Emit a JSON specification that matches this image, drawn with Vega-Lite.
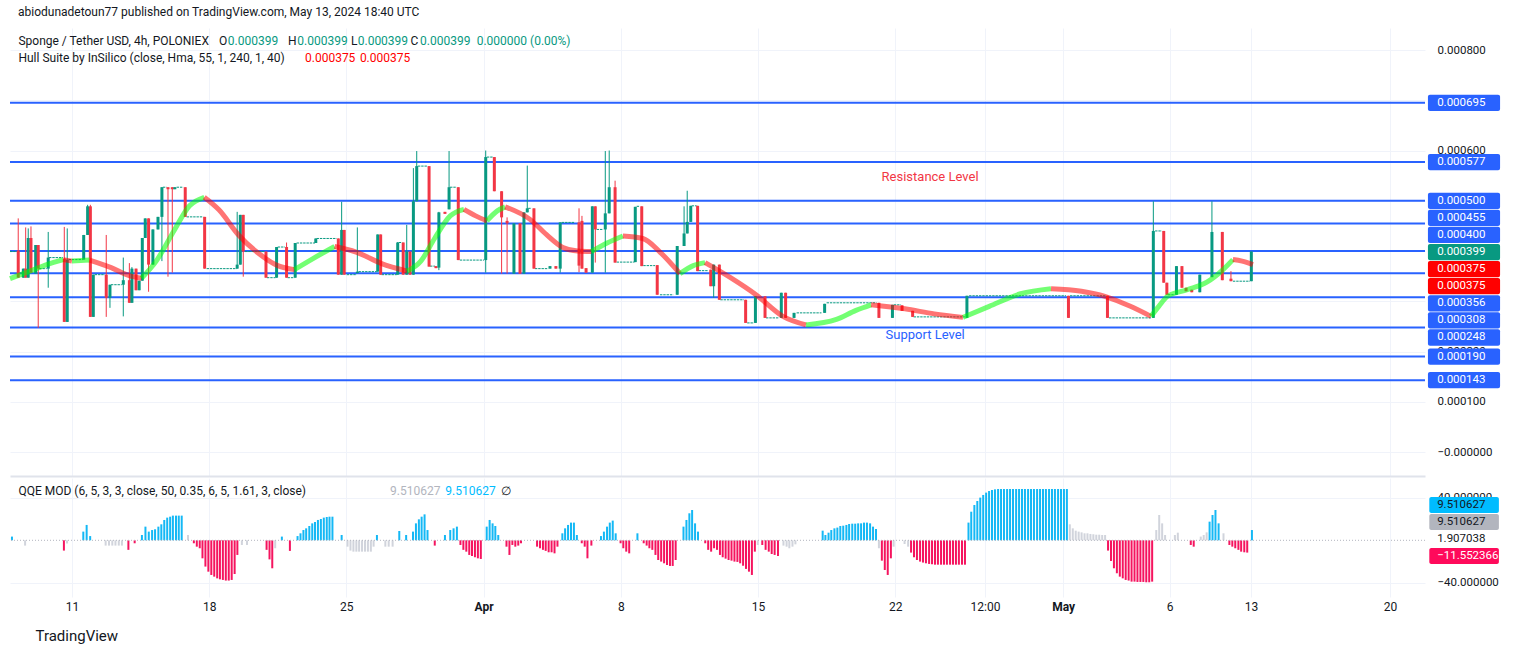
{
  "$schema": "https://vega.github.io/schema/vega-lite/v6.json",
  "background": "white",
  "padding": {"left": 0, "top": 6, "right": 5, "bottom": 5},
  "title": {"text": "abiodunadetoun77 published on TradingView.com, May 13, 2024 18:40 UTC", "anchor": "start", "dx": 18, "fontSize": 12, "fontWeight": "normal", "color": "#131722", "font": "Roboto", "offset": 9},
  "spacing": 2,
  "datasets": {
    "candles": [
      {"t":8.26,"o":0.000401,"h":0.000465,"l":0.000347,"c":0.000347},
      {"t":8.52,"o":0.000347,"h":0.000365,"l":0.000347,"c":0.000365},
      {"t":8.64,"o":0.000365,"h":0.000447,"l":0.000347,"c":0.000347},
      {"t":8.77,"o":0.000347,"h":0.000445,"l":0.000347,"c":0.000426},
      {"t":8.91,"o":0.000426,"h":0.000449,"l":0.000357,"c":0.000357},
      {"t":9.15,"o":0.000355,"h":0.000412,"l":0.000355,"c":0.000412},
      {"t":9.28,"o":0.000412,"h":0.000412,"l":0.000247,"c":0.000365},
      {"t":9.79,"o":0.000365,"h":0.000438,"l":0.000327,"c":0.000387},
      {"t":10.61,"o":0.000385,"h":0.000448,"l":0.000259,"c":0.000259},
      {"t":10.76,"o":0.000259,"h":0.000445,"l":0.000259,"c":0.000383},
      {"t":11.6,"o":0.000383,"h":0.000432,"l":0.000383,"c":0.000432},
      {"t":11.8,"o":0.000432,"h":0.000492,"l":0.000432,"c":0.000489},
      {"t":11.94,"o":0.000489,"h":0.000492,"l":0.000269,"c":0.000269},
      {"t":12.09,"o":0.000269,"h":0.000353,"l":0.000269,"c":0.000353},
      {"t":12.75,"o":0.000353,"h":0.000432,"l":0.000269,"c":0.000307},
      {"t":12.94,"o":0.000307,"h":0.000333,"l":0.000287,"c":0.000333},
      {"t":13.62,"o":0.000333,"h":0.000387,"l":0.000270,"c":0.000342},
      {"t":13.93,"o":0.000342,"h":0.000376,"l":0.000297,"c":0.000297},
      {"t":14.06,"o":0.000297,"h":0.000368,"l":0.000297,"c":0.000365},
      {"t":14.27,"o":0.000365,"h":0.000365,"l":0.000322,"c":0.000322},
      {"t":14.43,"o":0.000322,"h":0.000341,"l":0.000322,"c":0.000341},
      {"t":14.59,"o":0.000341,"h":0.000426,"l":0.000341,"c":0.000426},
      {"t":14.74,"o":0.000426,"h":0.000465,"l":0.000426,"c":0.000465},
      {"t":14.91,"o":0.000465,"h":0.000465,"l":0.000319,"c":0.000373},
      {"t":15.13,"o":0.000373,"h":0.000443,"l":0.000373,"c":0.000443},
      {"t":15.39,"o":0.000443,"h":0.000468,"l":0.000443,"c":0.000468},
      {"t":15.59,"o":0.000468,"h":0.000527,"l":0.000380,"c":0.000527},
      {"t":15.9,"o":0.000527,"h":0.000527,"l":0.000349,"c":0.000523},
      {"t":16.12,"o":0.000527,"h":0.000527,"l":0.000357,"c":0.000523},
      {"t":16.25,"o":0.000523,"h":0.000527,"l":0.000523,"c":0.000527},
      {"t":16.78,"o":0.000527,"h":0.000527,"l":0.000468,"c":0.000468},
      {"t":17.77,"o":0.000468,"h":0.000468,"l":0.000365,"c":0.000365},
      {"t":19.43,"o":0.000365,"h":0.000478,"l":0.000365,"c":0.000373},
      {"t":19.59,"o":0.000373,"h":0.000472,"l":0.000373,"c":0.000472},
      {"t":19.74,"o":0.000472,"h":0.000472,"l":0.000349,"c":0.000399},
      {"t":20.9,"o":0.000399,"h":0.000399,"l":0.000347,"c":0.000347},
      {"t":21.44,"o":0.000347,"h":0.000408,"l":0.000347,"c":0.000408},
      {"t":21.95,"o":0.000408,"h":0.000417,"l":0.000347,"c":0.000347},
      {"t":22.39,"o":0.000347,"h":0.000416,"l":0.000347,"c":0.000416},
      {"t":23.44,"o":0.000416,"h":0.000425,"l":0.000416,"c":0.000425},
      {"t":24.59,"o":0.000425,"h":0.000425,"l":0.000353,"c":0.000353},
      {"t":24.76,"o":0.000353,"h":0.000498,"l":0.000353,"c":0.000442},
      {"t":24.89,"o":0.000442,"h":0.000442,"l":0.000353,"c":0.000353},
      {"t":25.56,"o":0.000356,"h":0.000447,"l":0.000356,"c":0.000359},
      {"t":26.6,"o":0.000359,"h":0.000433,"l":0.000359,"c":0.000433},
      {"t":26.75,"o":0.000433,"h":0.000433,"l":0.000353,"c":0.000353},
      {"t":27.62,"o":0.000353,"h":0.000418,"l":0.000353,"c":0.000417},
      {"t":27.9,"o":0.000417,"h":0.000417,"l":0.000353,"c":0.000353},
      {"t":28.08,"o":0.000353,"h":0.000452,"l":0.000353,"c":0.000399},
      {"t":28.25,"o":0.000399,"h":0.000399,"l":0.000353,"c":0.000353},
      {"t":28.42,"o":0.000353,"h":0.000565,"l":0.000353,"c":0.000499},
      {"t":28.59,"o":0.000499,"h":0.000599,"l":0.000499,"c":0.000569},
      {"t":29.22,"o":0.000569,"h":0.000569,"l":0.000369,"c":0.000369},
      {"t":29.57,"o":0.000370,"h":0.000370,"l":0.000366,"c":0.000366},
      {"t":29.72,"o":0.000367,"h":0.000478,"l":0.000362,"c":0.000477},
      {"t":30.03,"o":0.000478,"h":0.000478,"l":0.000474,"c":0.000474},
      {"t":30.24,"o":0.000483,"h":0.000599,"l":0.000483,"c":0.000527},
      {"t":30.71,"o":0.000527,"h":0.000527,"l":0.000382,"c":0.000382},
      {"t":32.11,"o":0.000382,"h":0.000600,"l":0.000357,"c":0.000587},
      {"t":32.55,"o":0.000587,"h":0.000587,"l":0.000519,"c":0.000519},
      {"t":32.92,"o":0.000519,"h":0.000519,"l":0.000355,"c":0.000467},
      {"t":33.2,"o":0.000460,"h":0.000467,"l":0.000355,"c":0.000455},
      {"t":33.55,"o":0.000355,"h":0.000455,"l":0.000355,"c":0.000455},
      {"t":33.86,"o":0.000455,"h":0.000455,"l":0.000355,"c":0.000355},
      {"t":34.06,"o":0.000355,"h":0.000477,"l":0.000355,"c":0.000477},
      {"t":34.23,"o":0.000477,"h":0.000570,"l":0.000477,"c":0.000485},
      {"t":34.57,"o":0.000485,"h":0.000485,"l":0.000365,"c":0.000365},
      {"t":35.39,"o":0.000365,"h":0.000370,"l":0.000365,"c":0.000370},
      {"t":35.69,"o":0.000370,"h":0.000370,"l":0.000365,"c":0.000365},
      {"t":35.91,"o":0.000365,"h":0.000457,"l":0.000357,"c":0.000457},
      {"t":36.87,"o":0.000457,"h":0.000485,"l":0.000358,"c":0.000371},
      {"t":37.02,"o":0.000460,"h":0.000470,"l":0.000365,"c":0.000365},
      {"t":37.23,"o":0.000366,"h":0.000366,"l":0.000357,"c":0.000357},
      {"t":37.55,"o":0.000357,"h":0.000489,"l":0.000357,"c":0.000489},
      {"t":37.7,"o":0.000489,"h":0.000489,"l":0.000377,"c":0.000443},
      {"t":38.21,"o":0.000443,"h":0.000599,"l":0.000357,"c":0.000475},
      {"t":38.41,"o":0.000475,"h":0.000600,"l":0.000475,"c":0.000527},
      {"t":38.71,"o":0.000527,"h":0.000540,"l":0.000377,"c":0.000377},
      {"t":39.74,"o":0.000378,"h":0.000488,"l":0.000378,"c":0.000488},
      {"t":40.07,"o":0.000489,"h":0.000489,"l":0.000370,"c":0.000370},
      {"t":40.86,"o":0.000372,"h":0.000372,"l":0.000313,"c":0.000313},
      {"t":41.88,"o":0.000313,"h":0.000410,"l":0.000313,"c":0.000410},
      {"t":42.23,"o":0.000410,"h":0.000489,"l":0.000410,"c":0.000435},
      {"t":42.39,"o":0.000435,"h":0.000520,"l":0.000435,"c":0.000458},
      {"t":42.57,"o":0.000458,"h":0.000490,"l":0.000458,"c":0.000490},
      {"t":42.92,"o":0.000490,"h":0.000490,"l":0.000360,"c":0.000360},
      {"t":43.59,"o":0.000363,"h":0.000363,"l":0.000330,"c":0.000330},
      {"t":43.74,"o":0.000330,"h":0.000373,"l":0.000307,"c":0.000373},
      {"t":44.03,"o":0.000373,"h":0.000373,"l":0.000303,"c":0.000303},
      {"t":45.37,"o":0.000303,"h":0.000303,"l":0.000257,"c":0.000257},
      {"t":45.87,"o":0.000257,"h":0.000310,"l":0.000257,"c":0.000310},
      {"t":46.36,"o":0.000310,"h":0.000310,"l":0.000267,"c":0.000267},
      {"t":47.19,"o":0.000267,"h":0.000317,"l":0.000267,"c":0.000317},
      {"t":47.41,"o":0.000317,"h":0.000317,"l":0.000267,"c":0.000267},
      {"t":47.84,"o":0.000267,"h":0.000277,"l":0.000267,"c":0.000277},
      {"t":49.4,"o":0.000277,"h":0.000295,"l":0.000277,"c":0.000295},
      {"t":52.17,"o":0.000297,"h":0.000297,"l":0.000267,"c":0.000267},
      {"t":52.86,"o":0.000267,"h":0.000293,"l":0.000267,"c":0.000293},
      {"t":53.35,"o":0.000292,"h":0.000292,"l":0.000281,"c":0.000281},
      {"t":53.89,"o":0.000281,"h":0.000281,"l":0.000269,"c":0.000269},
      {"t":56.66,"o":0.000267,"h":0.000311,"l":0.000267,"c":0.000311},
      {"t":61.84,"o":0.000311,"h":0.000311,"l":0.000267,"c":0.000267},
      {"t":63.83,"o":0.000311,"h":0.000311,"l":0.000267,"c":0.000267},
      {"t":66.17,"o":0.000267,"h":0.000499,"l":0.000267,"c":0.000440},
      {"t":66.7,"o":0.000440,"h":0.000440,"l":0.000337,"c":0.000337},
      {"t":66.86,"o":0.000337,"h":0.000337,"l":0.000313,"c":0.000313},
      {"t":67.35,"o":0.000313,"h":0.000370,"l":0.000313,"c":0.000370},
      {"t":67.63,"o":0.000370,"h":0.000370,"l":0.000327,"c":0.000327},
      {"t":67.84,"o":0.000327,"h":0.000327,"l":0.000320,"c":0.000320},
      {"t":68.13,"o":0.000323,"h":0.000323,"l":0.000318,"c":0.000318},
      {"t":68.54,"o":0.000318,"h":0.000353,"l":0.000318,"c":0.000353},
      {"t":69.16,"o":0.000348,"h":0.000499,"l":0.000348,"c":0.000438},
      {"t":69.69,"o":0.000438,"h":0.000438,"l":0.000342,"c":0.000342},
      {"t":70.13,"o":0.000345,"h":0.000360,"l":0.000340,"c":0.000340},
      {"t":71.17,"o":0.000340,"h":0.000399,"l":0.000340,"c":0.000399}
    ],
    "flats": [
      {"t0":7.84,"t1":8.2,"p":0.000399},{"t0":9.33,"t1":9.71,"p":0.000365},{"t0":9.83,"t1":10.54,"p":0.000387},
      {"t0":10.83,"t1":11.55,"p":0.000383},{"t0":12.16,"t1":12.68,"p":0.000353},{"t0":12.99,"t1":13.54,"p":0.000333},
      {"t0":15.64,"t1":15.83,"p":0.000527},{"t0":16.34,"t1":16.68,"p":0.000527},{"t0":16.85,"t1":17.7,"p":0.000468},
      {"t0":17.87,"t1":19.41,"p":0.000365},{"t0":19.83,"t1":20.85,"p":0.000399},{"t0":20.95,"t1":21.38,"p":0.000347},
      {"t0":21.5,"t1":21.87,"p":0.000408},{"t0":22.0,"t1":22.35,"p":0.000347},{"t0":22.46,"t1":23.4,"p":0.000416},
      {"t0":23.48,"t1":24.51,"p":0.000425},{"t0":25.02,"t1":25.53,"p":0.000353},{"t0":25.62,"t1":26.55,"p":0.000359},
      {"t0":26.8,"t1":27.57,"p":0.000353},{"t0":27.67,"t1":27.85,"p":0.000417},{"t0":28.65,"t1":29.15,"p":0.000569},
      {"t0":29.27,"t1":29.52,"p":0.000370},{"t0":30.29,"t1":30.63,"p":0.000527},{"t0":30.79,"t1":32.02,"p":0.000382},
      {"t0":32.17,"t1":32.47,"p":0.000587},{"t0":34.28,"t1":34.45,"p":0.000485},{"t0":34.62,"t1":35.3,"p":0.000365},
      {"t0":35.99,"t1":36.66,"p":0.000457},{"t0":37.77,"t1":38.11,"p":0.000443},{"t0":38.79,"t1":39.7,"p":0.000378},
      {"t0":39.81,"t1":39.98,"p":0.000489},{"t0":40.15,"t1":40.75,"p":0.000371},{"t0":41.0,"t1":41.68,"p":0.000313},
      {"t0":42.62,"t1":42.87,"p":0.000490},{"t0":42.97,"t1":43.45,"p":0.000361},{"t0":44.08,"t1":45.29,"p":0.000303},
      {"t0":45.45,"t1":45.8,"p":0.000257},{"t0":46.41,"t1":47.07,"p":0.000267},{"t0":47.97,"t1":49.24,"p":0.000277},
      {"t0":49.5,"t1":52.05,"p":0.000297},{"t0":52.93,"t1":53.3,"p":0.000293},{"t0":53.94,"t1":56.56,"p":0.000269},
      {"t0":56.77,"t1":61.72,"p":0.000311},{"t0":61.92,"t1":63.76,"p":0.000311},{"t0":63.91,"t1":66.05,"p":0.000267},
      {"t0":66.26,"t1":66.61,"p":0.000440},{"t0":66.92,"t1":67.28,"p":0.000313},{"t0":70.23,"t1":71.1,"p":0.000340}
    ],
    "hull": [
      {"leg":1,"trend":"up","t":7.84,"p":0.000345},{"leg":1,"trend":"up","t":8.86,"p":0.000360},{"leg":1,"trend":"up","t":9.71,"p":0.000373},{"leg":1,"trend":"up","t":10.56,"p":0.000383},
      {"leg":2,"trend":"down","t":10.56,"p":0.000383},{"leg":2,"trend":"down","t":11.0,"p":0.000380},
      {"leg":3,"trend":"up","t":11.0,"p":0.000380},{"leg":3,"trend":"up","t":11.9,"p":0.000382},
      {"leg":4,"trend":"down","t":11.9,"p":0.000382},{"leg":4,"trend":"down","t":13.0,"p":0.000367},{"leg":4,"trend":"down","t":14.0,"p":0.000350},{"leg":4,"trend":"down","t":14.55,"p":0.000346},
      {"leg":5,"trend":"up","t":14.55,"p":0.000346},{"leg":5,"trend":"up","t":15.3,"p":0.000380},{"leg":5,"trend":"up","t":16.2,"p":0.000440},{"leg":5,"trend":"up","t":17.0,"p":0.000490},{"leg":5,"trend":"up","t":17.75,"p":0.000507},
      {"leg":6,"trend":"down","t":17.75,"p":0.000507},{"leg":6,"trend":"down","t":18.5,"p":0.000482},{"leg":6,"trend":"down","t":19.5,"p":0.000432},{"leg":6,"trend":"down","t":20.5,"p":0.000396},{"leg":6,"trend":"down","t":21.5,"p":0.000371},{"leg":6,"trend":"down","t":22.35,"p":0.000363},
      {"leg":7,"trend":"up","t":22.35,"p":0.000363},{"leg":7,"trend":"up","t":23.3,"p":0.000385},{"leg":7,"trend":"up","t":24.4,"p":0.000409},
      {"leg":8,"trend":"down","t":24.4,"p":0.000409},{"leg":8,"trend":"down","t":25.5,"p":0.000398},{"leg":8,"trend":"down","t":26.8,"p":0.000375},{"leg":8,"trend":"down","t":28.1,"p":0.000360},
      {"leg":9,"trend":"up","t":28.1,"p":0.000360},{"leg":9,"trend":"up","t":28.8,"p":0.000380},{"leg":9,"trend":"up","t":29.5,"p":0.000425},{"leg":9,"trend":"up","t":30.3,"p":0.000470},{"leg":9,"trend":"up","t":31.0,"p":0.000483},
      {"leg":10,"trend":"down","t":31.0,"p":0.000483},{"leg":10,"trend":"down","t":31.6,"p":0.000470},{"leg":10,"trend":"down","t":32.17,"p":0.000460},
      {"leg":11,"trend":"up","t":32.17,"p":0.000460},{"leg":11,"trend":"up","t":32.7,"p":0.000480},{"leg":11,"trend":"up","t":33.1,"p":0.000488},
      {"leg":12,"trend":"down","t":33.1,"p":0.000488},{"leg":12,"trend":"down","t":34.37,"p":0.000463},{"leg":12,"trend":"down","t":35.2,"p":0.000433},{"leg":12,"trend":"down","t":36.05,"p":0.000407},{"leg":12,"trend":"down","t":36.8,"p":0.000400},{"leg":12,"trend":"down","t":37.5,"p":0.000399},
      {"leg":13,"trend":"up","t":37.5,"p":0.000399},{"leg":13,"trend":"up","t":38.3,"p":0.000416},{"leg":13,"trend":"up","t":39.11,"p":0.000430},
      {"leg":14,"trend":"down","t":39.11,"p":0.000430},{"leg":14,"trend":"down","t":40.13,"p":0.000425},{"leg":14,"trend":"down","t":41.0,"p":0.000398},{"leg":14,"trend":"down","t":42.02,"p":0.000355},
      {"leg":15,"trend":"up","t":42.02,"p":0.000355},{"leg":15,"trend":"up","t":42.7,"p":0.000371},{"leg":15,"trend":"up","t":43.3,"p":0.000377},
      {"leg":16,"trend":"down","t":43.3,"p":0.000377},{"leg":16,"trend":"down","t":44.6,"p":0.000347},{"leg":16,"trend":"down","t":45.9,"p":0.000313},{"leg":16,"trend":"down","t":47.27,"p":0.000270},{"leg":16,"trend":"down","t":48.45,"p":0.000253},
      {"leg":17,"trend":"up","t":48.45,"p":0.000253},{"leg":17,"trend":"up","t":50.0,"p":0.000264},{"leg":17,"trend":"up","t":51.0,"p":0.000282},{"leg":17,"trend":"up","t":51.77,"p":0.000293},
      {"leg":18,"trend":"down","t":51.77,"p":0.000293},{"leg":18,"trend":"down","t":53.5,"p":0.000285},{"leg":18,"trend":"down","t":55.0,"p":0.000275},{"leg":18,"trend":"down","t":56.46,"p":0.000268},
      {"leg":19,"trend":"up","t":56.46,"p":0.000268},{"leg":19,"trend":"up","t":57.8,"p":0.000290},{"leg":19,"trend":"up","t":59.4,"p":0.000315},{"leg":19,"trend":"up","t":60.95,"p":0.000325},
      {"leg":20,"trend":"down","t":60.95,"p":0.000325},{"leg":20,"trend":"down","t":62.5,"p":0.000320},{"leg":20,"trend":"down","t":63.7,"p":0.000310},{"leg":20,"trend":"down","t":65.0,"p":0.000290},{"leg":20,"trend":"down","t":66.05,"p":0.000270},
      {"leg":21,"trend":"up","t":66.05,"p":0.000270},{"leg":21,"trend":"up","t":66.45,"p":0.000290},{"leg":21,"trend":"up","t":66.9,"p":0.000310},{"leg":21,"trend":"up","t":67.9,"p":0.000323},{"leg":21,"trend":"up","t":68.9,"p":0.000338},{"leg":21,"trend":"up","t":69.7,"p":0.000362},{"leg":21,"trend":"up","t":70.23,"p":0.000383},
      {"leg":22,"trend":"down","t":70.23,"p":0.000383},{"leg":22,"trend":"down","t":70.7,"p":0.000380},{"leg":22,"trend":"down","t":71.25,"p":0.000373}
    ],
    "levels": [
      {"v":0.000695},{"v":0.000577},{"v":0.000500},{"v":0.000455},{"v":0.000400},
      {"v":0.000356},{"v":0.000308},{"v":0.000248},{"v":0.000190},{"v":0.000143}
    ],
    "tags": [
      {"v":0.000695,"kind":"level"},{"v":0.000577,"kind":"level"},{"v":0.000500,"kind":"level"},{"v":0.000455,"kind":"level"},
      {"v":0.000400,"kind":"level"},{"v":0.000399,"kind":"price"},{"v":0.000375,"kind":"hull"},{"v":0.000375,"kind":"hull"},
      {"v":0.000356,"kind":"level"},{"v":0.000308,"kind":"level"},{"v":0.000248,"kind":"level"},{"v":0.000190,"kind":"level"},
      {"v":0.000143,"kind":"level"}
    ],
    "notes": [
      {"t":8.27,"p":0.000818,"text":"Sponge / Tether USD, 4h, POLONIEX","tone":"label"},
      {"t":18.5,"p":0.000818,"text":"O","tone":"label"},
      {"t":18.95,"p":0.000818,"text":"0.000399","tone":"value"},
      {"t":22.02,"p":0.000818,"text":"H","tone":"label"},
      {"t":22.5,"p":0.000818,"text":"0.000399","tone":"value"},
      {"t":25.24,"p":0.000818,"text":"L","tone":"label"},
      {"t":25.58,"p":0.000818,"text":"0.000399","tone":"value"},
      {"t":28.27,"p":0.000818,"text":"C","tone":"label"},
      {"t":28.76,"p":0.000818,"text":"0.000399","tone":"value"},
      {"t":31.65,"p":0.000818,"text":"0.000000 (0.00%)","tone":"value"},
      {"t":8.27,"p":0.000784,"text":"Hull Suite by InSilico (close, Hma, 55, 1, 240, 1, 40)","tone":"label"},
      {"t":22.89,"p":0.000784,"text":"0.000375","tone":"hull"},
      {"t":25.69,"p":0.000784,"text":"0.000375","tone":"hull"}
    ],
    "zones": [
      {"t":54.78,"p":0.000547,"text":"Resistance Level","tone":"res"},
      {"t":54.53,"p":0.000233,"text":"Support Level","tone":"sup"}
    ],
    "qqe": [
      {"t":7.94,"v":3.5,"state":"up"},{"t":8.61,"v":-5,"state":"flat"},{"t":10.59,"v":-9.7,"state":"down"},{"t":10.75,"v":-3,"state":"flat"},
      {"t":11.58,"v":8.2,"state":"up"},{"t":11.75,"v":14.5,"state":"up"},{"t":11.93,"v":4,"state":"up"},
      {"t":12.72,"v":-5,"state":"flat"},{"t":12.89,"v":-5,"state":"flat"},{"t":13.06,"v":-5,"state":"flat"},{"t":13.22,"v":-5,"state":"flat"},{"t":13.39,"v":-5,"state":"flat"},{"t":13.55,"v":-5,"state":"flat"},
      {"t":13.88,"v":-9,"state":"down"},{"t":14.2,"v":-2.8,"state":"down"},
      {"t":14.57,"v":5,"state":"up"},{"t":14.75,"v":12.9,"state":"up"},{"t":14.92,"v":8.2,"state":"up"},{"t":15.09,"v":9.7,"state":"up"},{"t":15.24,"v":10.4,"state":"up"},{"t":15.41,"v":12.9,"state":"up"},{"t":15.56,"v":15.1,"state":"up"},{"t":15.71,"v":19.2,"state":"up"},{"t":15.86,"v":21.4,"state":"up"},{"t":16.01,"v":22.3,"state":"up"},{"t":16.15,"v":23.3,"state":"up"},{"t":16.31,"v":23.3,"state":"up"},{"t":16.45,"v":23.3,"state":"up"},{"t":16.6,"v":23.3,"state":"up"},
      {"t":16.92,"v":5,"state":"flat"},
      {"t":17.22,"v":-2.8,"state":"down"},{"t":17.37,"v":-6,"state":"down"},{"t":17.52,"v":-7.5,"state":"down"},{"t":17.66,"v":-17,"state":"down"},{"t":17.81,"v":-24.8,"state":"down"},{"t":17.96,"v":-29.6,"state":"down"},{"t":18.11,"v":-32.7,"state":"down"},{"t":18.26,"v":-34.3,"state":"down"},{"t":18.41,"v":-35.9,"state":"down"},{"t":18.55,"v":-36.8,"state":"down"},{"t":18.7,"v":-37.4,"state":"down"},{"t":18.85,"v":-38,"state":"down"},{"t":19.0,"v":-38,"state":"down"},{"t":19.15,"v":-37.4,"state":"down"},{"t":19.3,"v":-31.8,"state":"down"},{"t":19.44,"v":-13.8,"state":"down"},
      {"t":19.67,"v":-4.4,"state":"flat"},{"t":19.93,"v":-4.4,"state":"flat"},
      {"t":20.93,"v":-9,"state":"down"},{"t":21.08,"v":-18,"state":"down"},{"t":21.22,"v":-26.4,"state":"down"},{"t":21.37,"v":-7.5,"state":"flat"},
      {"t":21.71,"v":3.5,"state":"up"},{"t":22.12,"v":-10,"state":"down"},
      {"t":22.51,"v":4,"state":"up"},{"t":22.66,"v":6.6,"state":"up"},{"t":22.81,"v":9.7,"state":"up"},{"t":22.95,"v":11.3,"state":"up"},{"t":23.11,"v":13.5,"state":"up"},{"t":23.26,"v":16,"state":"up"},{"t":23.4,"v":17.3,"state":"up"},{"t":23.55,"v":19.2,"state":"up"},{"t":23.7,"v":20.1,"state":"up"},{"t":23.85,"v":21.4,"state":"up"},{"t":24.0,"v":22,"state":"up"},{"t":24.14,"v":22.3,"state":"up"},{"t":24.29,"v":22.3,"state":"up"},
      {"t":24.76,"v":5,"state":"up"},
      {"t":25.06,"v":-6,"state":"flat"},{"t":25.21,"v":-9.7,"state":"flat"},{"t":25.36,"v":-10.7,"state":"flat"},{"t":25.51,"v":-10.7,"state":"flat"},{"t":25.65,"v":-10.7,"state":"flat"},{"t":25.8,"v":-10.7,"state":"flat"},{"t":25.95,"v":-10.7,"state":"flat"},{"t":26.1,"v":-10.7,"state":"flat"},{"t":26.25,"v":-10.7,"state":"flat"},{"t":26.39,"v":-6,"state":"flat"},
      {"t":26.56,"v":5,"state":"up"},
      {"t":26.99,"v":-6,"state":"flat"},{"t":27.16,"v":-6,"state":"flat"},{"t":27.36,"v":-6,"state":"flat"},
      {"t":27.7,"v":8.8,"state":"up"},{"t":28.05,"v":5,"state":"up"},
      {"t":28.4,"v":8.2,"state":"up"},{"t":28.55,"v":16,"state":"up"},{"t":28.7,"v":19.8,"state":"up"},{"t":28.84,"v":22.3,"state":"up"},{"t":28.99,"v":24.5,"state":"up"},{"t":29.14,"v":9.7,"state":"up"},
      {"t":29.51,"v":-5,"state":"down"},{"t":30.03,"v":5,"state":"up"},
      {"t":30.3,"v":9.7,"state":"up"},{"t":30.47,"v":11.3,"state":"up"},{"t":30.64,"v":12.9,"state":"up"},
      {"t":30.82,"v":-4.4,"state":"down"},{"t":30.97,"v":-9,"state":"down"},{"t":31.12,"v":-10.7,"state":"down"},{"t":31.27,"v":-13.8,"state":"down"},{"t":31.41,"v":-14.8,"state":"down"},{"t":31.56,"v":-16,"state":"down"},{"t":31.71,"v":-17,"state":"down"},{"t":31.86,"v":-17.6,"state":"down"},
      {"t":32.16,"v":12.9,"state":"up"},{"t":32.31,"v":19.2,"state":"up"},{"t":32.46,"v":16,"state":"up"},{"t":32.6,"v":13.5,"state":"up"},{"t":32.75,"v":5,"state":"up"},
      {"t":33.17,"v":-6,"state":"down"},{"t":33.32,"v":-13.8,"state":"down"},{"t":33.47,"v":-4.4,"state":"down"},{"t":33.62,"v":-6,"state":"down"},{"t":33.77,"v":-5,"state":"down"},{"t":33.91,"v":-2.8,"state":"down"},
      {"t":34.73,"v":-6,"state":"down"},{"t":34.88,"v":-7.5,"state":"down"},{"t":35.03,"v":-9,"state":"down"},{"t":35.17,"v":-10,"state":"down"},{"t":35.32,"v":-11.3,"state":"down"},{"t":35.47,"v":-11.3,"state":"down"},{"t":35.62,"v":-12.3,"state":"down"},{"t":35.77,"v":-6,"state":"down"},
      {"t":36.02,"v":6.6,"state":"up"},{"t":36.16,"v":11.3,"state":"up"},{"t":36.31,"v":14.5,"state":"up"},{"t":36.46,"v":16.7,"state":"up"},{"t":36.61,"v":16.7,"state":"up"},{"t":36.76,"v":5,"state":"up"},
      {"t":37.01,"v":-2.8,"state":"down"},{"t":37.16,"v":-6,"state":"down"},{"t":37.3,"v":-17,"state":"down"},{"t":37.5,"v":-5,"state":"down"},
      {"t":37.99,"v":4,"state":"up"},{"t":38.14,"v":8.2,"state":"up"},{"t":38.3,"v":12.9,"state":"up"},{"t":38.44,"v":16.7,"state":"up"},{"t":38.59,"v":18.6,"state":"up"},{"t":38.74,"v":6.6,"state":"up"},
      {"t":38.99,"v":-2.8,"state":"down"},{"t":39.13,"v":-7.5,"state":"down"},{"t":39.28,"v":-10.7,"state":"down"},{"t":39.43,"v":-12.3,"state":"down"},
      {"t":39.85,"v":6.6,"state":"up"},
      {"t":40.17,"v":-2.8,"state":"down"},{"t":40.32,"v":-5,"state":"down"},{"t":40.46,"v":-7.5,"state":"down"},{"t":40.61,"v":-9,"state":"down"},{"t":40.77,"v":-13.8,"state":"down"},{"t":40.91,"v":-18.6,"state":"down"},{"t":41.06,"v":-20.1,"state":"down"},{"t":41.21,"v":-21.7,"state":"down"},{"t":41.36,"v":-23.3,"state":"down"},{"t":41.51,"v":-24.2,"state":"down"},{"t":41.65,"v":-24.2,"state":"down"},{"t":41.8,"v":-18.6,"state":"down"},
      {"t":42.2,"v":12.9,"state":"up"},{"t":42.35,"v":19.2,"state":"up"},{"t":42.5,"v":25.5,"state":"up"},{"t":42.64,"v":28.6,"state":"up"},{"t":42.79,"v":16,"state":"up"},{"t":42.94,"v":8.2,"state":"up"},
      {"t":43.31,"v":-2.8,"state":"down"},{"t":43.46,"v":-9,"state":"down"},{"t":43.61,"v":-10.7,"state":"down"},{"t":43.76,"v":-7.5,"state":"down"},{"t":43.91,"v":-9,"state":"down"},{"t":44.06,"v":-13.8,"state":"down"},{"t":44.2,"v":-16,"state":"down"},{"t":44.35,"v":-17.3,"state":"down"},{"t":44.5,"v":-18.6,"state":"down"},{"t":44.65,"v":-19.2,"state":"down"},{"t":44.8,"v":-20.1,"state":"down"},{"t":44.95,"v":-20.4,"state":"down"},{"t":45.09,"v":-21.7,"state":"down"},{"t":45.24,"v":-24,"state":"down"},{"t":45.39,"v":-27,"state":"down"},{"t":45.54,"v":-29.6,"state":"down"},{"t":45.69,"v":-32.7,"state":"down"},{"t":45.84,"v":-10.7,"state":"down"},
      {"t":45.99,"v":-4.4,"state":"flat"},
      {"t":46.22,"v":-4.4,"state":"down"},{"t":46.39,"v":-9,"state":"down"},{"t":46.55,"v":-10.7,"state":"down"},{"t":46.7,"v":-12.9,"state":"down"},{"t":46.85,"v":-13.8,"state":"down"},{"t":47.02,"v":-14.8,"state":"down"},
      {"t":47.3,"v":-5,"state":"flat"},{"t":47.46,"v":-6,"state":"flat"},{"t":47.6,"v":-7.5,"state":"flat"},{"t":47.76,"v":-6,"state":"flat"},{"t":47.91,"v":-3.8,"state":"flat"},
      {"t":49.3,"v":9.1,"state":"up"},{"t":49.44,"v":5,"state":"up"},{"t":49.6,"v":7.2,"state":"up"},{"t":49.74,"v":9.7,"state":"up"},{"t":49.9,"v":11.3,"state":"up"},{"t":50.05,"v":12,"state":"up"},{"t":50.2,"v":13.5,"state":"up"},{"t":50.35,"v":13.8,"state":"up"},{"t":50.51,"v":14.5,"state":"up"},{"t":50.65,"v":15.4,"state":"up"},{"t":50.81,"v":15.7,"state":"up"},{"t":50.96,"v":15.7,"state":"up"},{"t":51.11,"v":16,"state":"up"},{"t":51.26,"v":16,"state":"up"},{"t":51.41,"v":16.7,"state":"up"},{"t":51.56,"v":16.7,"state":"up"},{"t":51.72,"v":16,"state":"up"},{"t":51.87,"v":12.9,"state":"up"},{"t":52.02,"v":10.7,"state":"up"},
      {"t":52.17,"v":-7.5,"state":"flat"},
      {"t":52.32,"v":-19.2,"state":"down"},{"t":52.47,"v":-28,"state":"down"},{"t":52.62,"v":-32.7,"state":"down"},{"t":52.78,"v":-17,"state":"down"},
      {"t":52.92,"v":-6,"state":"flat"},{"t":53.48,"v":-3.5,"state":"flat"},{"t":53.66,"v":-6,"state":"flat"},
      {"t":53.81,"v":-11.6,"state":"down"},{"t":53.96,"v":-16,"state":"down"},{"t":54.11,"v":-18.6,"state":"down"},{"t":54.27,"v":-20.1,"state":"down"},{"t":54.42,"v":-21,"state":"down"},{"t":54.57,"v":-21.7,"state":"down"},{"t":54.73,"v":-22.3,"state":"down"},{"t":54.88,"v":-22.6,"state":"down"},{"t":55.03,"v":-23,"state":"down"},{"t":55.18,"v":-23,"state":"down"},{"t":55.34,"v":-23,"state":"down"},{"t":55.49,"v":-23,"state":"down"},{"t":55.64,"v":-23,"state":"down"},{"t":55.8,"v":-23,"state":"down"},{"t":55.95,"v":-23,"state":"down"},{"t":56.1,"v":-23,"state":"down"},{"t":56.25,"v":-23,"state":"down"},{"t":56.41,"v":-23,"state":"down"},{"t":56.56,"v":-23,"state":"down"},
      {"t":56.74,"v":16.7,"state":"up"},{"t":56.88,"v":27,"state":"up"},{"t":57.04,"v":33.3,"state":"up"},{"t":57.19,"v":37.1,"state":"up"},{"t":57.34,"v":40.3,"state":"up"},{"t":57.49,"v":42.8,"state":"up"},{"t":57.64,"v":45,"state":"up"},{"t":57.79,"v":46.5,"state":"up"},{"t":57.94,"v":47.5,"state":"up"},{"t":58.09,"v":48.1,"state":"up"},
      {"t":58.25,"v":48.4,"state":"up"},{"t":58.4,"v":48.4,"state":"up"},{"t":58.55,"v":48.4,"state":"up"},{"t":58.71,"v":48.4,"state":"up"},{"t":58.86,"v":48.4,"state":"up"},{"t":59.01,"v":48.4,"state":"up"},{"t":59.17,"v":48.4,"state":"up"},{"t":59.32,"v":48.4,"state":"up"},{"t":59.47,"v":48.4,"state":"up"},{"t":59.62,"v":48.4,"state":"up"},{"t":59.78,"v":48.4,"state":"up"},{"t":59.93,"v":48.4,"state":"up"},{"t":60.08,"v":48.4,"state":"up"},{"t":60.24,"v":48.4,"state":"up"},{"t":60.39,"v":48.4,"state":"up"},{"t":60.54,"v":48.4,"state":"up"},{"t":60.69,"v":48.4,"state":"up"},{"t":60.85,"v":48.4,"state":"up"},{"t":61.0,"v":48.4,"state":"up"},{"t":61.15,"v":48.4,"state":"up"},{"t":61.31,"v":48.4,"state":"up"},{"t":61.46,"v":48.4,"state":"up"},{"t":61.61,"v":48.4,"state":"up"},{"t":61.76,"v":48.4,"state":"up"},
      {"t":61.91,"v":15.1,"state":"flat"},{"t":62.06,"v":11.3,"state":"flat"},{"t":62.21,"v":9.1,"state":"flat"},{"t":62.36,"v":8.2,"state":"flat"},{"t":62.51,"v":7.5,"state":"flat"},{"t":62.66,"v":6.6,"state":"flat"},{"t":62.81,"v":6.6,"state":"flat"},{"t":62.96,"v":6,"state":"flat"},{"t":63.11,"v":5.7,"state":"flat"},{"t":63.26,"v":5.3,"state":"flat"},{"t":63.41,"v":5.3,"state":"flat"},{"t":63.56,"v":5,"state":"flat"},{"t":63.71,"v":5,"state":"flat"},
      {"t":63.86,"v":-9.7,"state":"down"},{"t":64.01,"v":-19.5,"state":"down"},{"t":64.16,"v":-26.4,"state":"down"},{"t":64.31,"v":-31.1,"state":"down"},{"t":64.46,"v":-34.3,"state":"down"},{"t":64.61,"v":-35.9,"state":"down"},{"t":64.76,"v":-37.4,"state":"down"},{"t":64.91,"v":-38,"state":"down"},{"t":65.06,"v":-39,"state":"down"},{"t":65.21,"v":-39,"state":"down"},{"t":65.36,"v":-39.3,"state":"down"},{"t":65.51,"v":-39.3,"state":"down"},{"t":65.66,"v":-39.3,"state":"down"},{"t":65.81,"v":-39.6,"state":"down"},{"t":65.96,"v":-39.6,"state":"down"},{"t":66.11,"v":-39,"state":"down"},
      {"t":66.32,"v":9.7,"state":"flat"},{"t":66.47,"v":23.9,"state":"flat"},{"t":66.62,"v":16,"state":"flat"},{"t":66.77,"v":5,"state":"flat"},{"t":67.27,"v":5,"state":"flat"},{"t":67.42,"v":7.2,"state":"flat"},
      {"t":68.08,"v":-4.4,"state":"down"},{"t":68.23,"v":-6,"state":"down"},
      {"t":68.59,"v":3.5,"state":"flat"},{"t":68.74,"v":5,"state":"flat"},{"t":68.89,"v":7.5,"state":"flat"},
      {"t":69.04,"v":17.6,"state":"up"},{"t":69.19,"v":23.9,"state":"up"},{"t":69.34,"v":28.6,"state":"up"},{"t":69.5,"v":16,"state":"up"},
      {"t":69.75,"v":6.6,"state":"flat"},
      {"t":70.05,"v":-4.4,"state":"down"},{"t":70.2,"v":-6,"state":"down"},{"t":70.35,"v":-7.5,"state":"down"},{"t":70.51,"v":-9,"state":"down"},{"t":70.65,"v":-10.7,"state":"down"},{"t":70.81,"v":-11.3,"state":"down"},{"t":70.96,"v":-11.6,"state":"down"},
      {"t":71.2,"v":9.7,"state":"up"}
    ],
    "qqeTags": [
      {"v":9.510627,"kind":"qqe"},{"v":9.510627,"kind":"signal"},{"v":1.907038,"kind":"trend"},{"v":-11.552366,"kind":"neg"}
    ],
    "qqeNotes": [
      {"t":8.27,"v":46.5,"text":"QQE MOD (6, 5, 3, 3, close, 50, 0.35, 6, 5, 1.61, 3, close)","tone":"label"},
      {"t":27.23,"v":46.5,"text":"9.510627","tone":"grey"},
      {"t":30.05,"v":46.5,"text":"9.510627","tone":"cyan"},
      {"t":32.9,"v":46.5,"text":"∅","tone":"label"}
    ]
  },
  "vconcat": [
    {
      "width": 1415,
      "height": 448,
      "encoding": {
        "x": {"type": "quantitative", "scale": {"domain": [7.84, 80.03], "nice": false, "zero": false},
          "axis": {"values": [11, 18, 25, 32, 39, 46, 53, 57.58, 61.57, 67, 71.15, 78.24], "labels": false, "ticks": false,
            "domain": true, "domainColor": "#E0E3EB", "domainWidth": 2, "grid": true, "gridColor": "#F0F3FA", "title": null}},
        "y": {"type": "quantitative", "scale": {"domain": [-0.0000476, 0.0008438], "nice": false, "zero": false},
          "axis": {"orient": "right", "values": [0, 0.0001, 0.0002, 0.0003, 0.0004, 0.0005, 0.0006, 0.0007, 0.0008],
            "labelExpr": "datum.value == 0 ? '−0.000000' : format(datum.value, '.6f')",
            "title": null, "ticks": false, "domain": false, "grid": true, "gridColor": "#F0F3FA",
            "labelPadding": 12, "labelFontSize": 11.5, "labelColor": "#131722", "labelFont": "Roboto"}}
      },
      "layer": [
        {
          "data": {"name": "levels"},
          "mark": {"type": "rule", "color": "#2962FF", "strokeWidth": 2},
          "encoding": {"y": {"field": "v"}}
        },
        {
          "data": {"name": "flats"},
          "mark": {"type": "rule", "color": "#089981", "strokeWidth": 1, "strokeDash": [2.4, 0.9]},
          "encoding": {"x": {"field": "t0"}, "x2": {"field": "t1"}, "y": {"field": "p"}}
        },
        {
          "data": {"name": "candles"},
          "mark": {"type": "rule", "strokeWidth": 1},
          "encoding": {
            "x": {"field": "t"}, "y": {"field": "l"}, "y2": {"field": "h"},
            "color": {"condition": {"test": "datum.c >= datum.o", "value": "#089981"}, "value": "#F23645"}
          }
        },
        {
          "data": {"name": "candles"},
          "mark": {"type": "rule", "strokeWidth": 3, "strokeCap": "butt"},
          "encoding": {
            "x": {"field": "t"}, "y": {"field": "o"}, "y2": {"field": "c"},
            "color": {"condition": {"test": "datum.c >= datum.o", "value": "#089981"}, "value": "#F23645"}
          }
        },
        {
          "data": {"name": "hull"},
          "mark": {"type": "line", "strokeWidth": 5, "opacity": 0.55, "interpolate": "monotone", "strokeCap": "butt"},
          "encoding": {
            "x": {"field": "t"}, "y": {"field": "p"},
            "detail": {"field": "leg", "type": "nominal"},
            "color": {"condition": {"test": "datum.trend == 'up'", "value": "#00FF00"}, "value": "#FF0000"}
          }
        },
        {
          "data": {"name": "notes"},
          "mark": {"type": "text", "align": "left", "baseline": "middle", "fontSize": 12, "font": "Roboto"},
          "encoding": {
            "x": {"field": "t"}, "y": {"field": "p"},
            "text": {"field": "text"},
            "color": {"condition": [{"test": "datum.tone == 'value'", "value": "#089981"}, {"test": "datum.tone == 'hull'", "value": "#FF0000"}], "value": "#131722"}
          }
        },
        {
          "data": {"name": "zones"},
          "mark": {"type": "text", "align": "center", "baseline": "middle", "fontSize": 13, "font": "Roboto"},
          "encoding": {
            "x": {"field": "t"}, "y": {"field": "p"},
            "text": {"field": "text"},
            "color": {"condition": {"test": "datum.tone == 'res'", "value": "#F23645"}, "value": "#2962FF"}
          }
        },
        {
          "data": {"name": "tags"},
          "transform": [
            {"window": [{"op": "row_number", "as": "rank"}], "sort": [{"field": "v", "order": "descending"}, {"field": "kind", "order": "ascending"}]},
            {"calculate": "datum.v <= 0.0005 && datum.v > 0.0002 ? 0.0005 - (datum.rank - 3) * 0.000034 : datum.v", "as": "pos"},
            {"calculate": "datum.pos + 0.0000162", "as": "top"},
            {"calculate": "datum.pos - 0.0000162", "as": "bot"},
            {"calculate": "80.18", "as": "boxL"},
            {"calculate": "83.86", "as": "boxR"},
            {"calculate": "80.65", "as": "textL"}
          ],
          "layer": [
            {
              "mark": {"type": "rect", "cornerRadius": 2},
              "encoding": {
                "x": {"field": "boxL"}, "x2": {"field": "boxR"},
                "y": {"field": "top"}, "y2": {"field": "bot"},
                "color": {"condition": [{"test": "datum.kind == 'price'", "value": "#089981"}, {"test": "datum.kind == 'hull'", "value": "#FF0000"}], "value": "#2962FF"}
              }
            },
            {
              "mark": {"type": "text", "align": "left", "baseline": "middle", "fontSize": 11.5, "font": "Roboto", "color": "white"},
              "encoding": {
                "x": {"field": "textL"}, "y": {"field": "pos"},
                "text": {"field": "v", "type": "quantitative", "format": ".6f"}
              }
            }
          ]
        }
      ]
    },
    {
      "width": 1415,
      "height": 119,
      "encoding": {
        "x": {"type": "quantitative", "scale": {"domain": [7.84, 80.03], "nice": false, "zero": false},
          "axis": {"orient": "bottom", "values": [11, 18, 25, 32, 39, 46, 53, 57.58, 61.57, 67, 71.15, 78.24],
            "labelExpr": "['11','18','25','Apr','8','15','22','12:00','May','6','13','20'][indexof([11,18,25,32,39,46,53,57.58,61.57,67,71.15,78.24], datum.value)]",
            "labelFontWeight": {"condition": {"test": "datum.value == 32 || datum.value == 61.57", "value": "bold"}, "value": "normal"},
            "labelFontSize": 12, "labelColor": "#131722", "labelFont": "Roboto", "labelPadding": 4, "labelFlush": false, "labelOverlap": false,
            "ticks": false, "domain": false, "grid": true, "gridColor": "#F0F3FA",
            "title": "TradingView", "titleFont": "Roboto", "titleFontSize": 15, "titleFontWeight": "normal", "titleColor": "#131722",
            "titlePadding": 16, "titleAnchor": "start", "titleAlign": "left", "titleX": 25}},
        "y": {"type": "quantitative", "scale": {"domain": [-53.5, 58.8], "nice": false, "zero": false},
          "axis": {"orient": "right", "values": [-40, 40], "format": ".6f", "title": null, "ticks": false, "domain": false,
            "grid": true, "gridColor": "#F0F3FA", "labelPadding": 12, "labelFontSize": 11.5, "labelColor": "#131722", "labelFont": "Roboto"}}
      },
      "layer": [
        {
          "data": {"name": "qqe"},
          "mark": {"type": "rule", "strokeWidth": 2, "strokeCap": "butt"},
          "encoding": {
            "x": {"field": "t"},
            "y": {"field": "v"},
            "y2": {"datum": 0},
            "color": {"condition": [{"test": "datum.state == 'up'", "value": "#14B8F5"}, {"test": "datum.state == 'down'", "value": "#F5145F"}], "value": "#D1D4DC"}
          }
        },
        {
          "data": {"name": "qqeTags"},
          "transform": [{"filter": "datum.kind == 'trend'"}, {"calculate": "0", "as": "zero"}],
          "mark": {"type": "rule", "color": "#B2B5BE", "strokeWidth": 1, "strokeDash": [1, 2]},
          "encoding": {"y": {"field": "zero"}}
        },
        {
          "data": {"name": "qqeNotes"},
          "mark": {"type": "text", "align": "left", "baseline": "middle", "fontSize": 12, "font": "Roboto"},
          "encoding": {
            "x": {"field": "t"}, "y": {"field": "v"},
            "text": {"field": "text"},
            "color": {"condition": [{"test": "datum.tone == 'grey'", "value": "#B2B5BE"}, {"test": "datum.tone == 'cyan'", "value": "#00BCFF"}], "value": "#131722"}
          }
        },
        {
          "data": {"name": "qqeTags"},
          "transform": [
            {"window": [{"op": "row_number", "as": "rank"}], "sort": [{"field": "v", "order": "descending"}, {"field": "kind", "order": "ascending"}]},
            {"calculate": "33.3 - (datum.rank - 1) * 16.04", "as": "pos"},
            {"calculate": "datum.pos + 7.6", "as": "top"},
            {"calculate": "datum.pos - 7.6", "as": "bot"},
            {"calculate": "80.25", "as": "boxL"},
            {"calculate": "83.8", "as": "boxR"},
            {"calculate": "80.65", "as": "textL"}
          ],
          "layer": [
            {
              "mark": {"type": "rect", "cornerRadius": 2},
              "encoding": {
                "x": {"field": "boxL"}, "x2": {"field": "boxR"},
                "y": {"field": "top"}, "y2": {"field": "bot"},
                "color": {"condition": [{"test": "datum.kind == 'qqe'", "value": "#00BCFF"}, {"test": "datum.kind == 'signal'", "value": "#B2B5BE"}, {"test": "datum.kind == 'neg'", "value": "#FF0A5B"}], "value": "white"}
              }
            },
            {
              "mark": {"type": "text", "align": "left", "baseline": "middle", "fontSize": 11.5, "font": "Roboto"},
              "encoding": {
                "x": {"field": "textL"}, "y": {"field": "pos"},
                "text": {"field": "v", "type": "quantitative", "format": ".6f"},
                "color": {"condition": {"test": "datum.kind == 'neg'", "value": "white"}, "value": "#131722"}
              }
            }
          ]
        }
      ]
    }
  ],
  "config": {
    "view": {"stroke": null},
    "font": "Roboto"
  }
}
